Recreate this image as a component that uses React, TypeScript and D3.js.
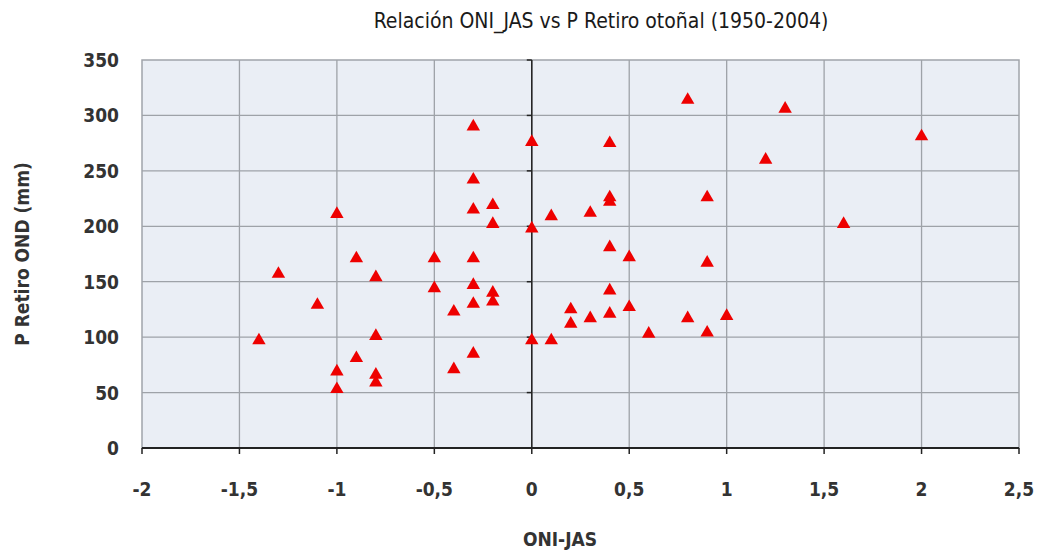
import React from "react";
import * as d3 from "d3";

const oniJas: number[] = [
  -0.3, 0, -0.3, -0.2, -0.3, -1, -0.2, 0, -0.9, -0.5, -0.3, -1.3, -0.8, -0.3, -0.5,
  -0.2, -0.2, -0.3, -1.1, -0.4, -0.8, -1.4, 0, -0.3, -0.9, -0.4, -1, -0.8, -0.8, -1,
  0.8, 1.3, 0.4, 2, 1.2, 0.4, 0.4, 0.9, 0.1, 0.3, 1.6, 0.4, 0.5, 0.9, 0.4, 0.2,
  0.5, 0.3, 0.4, 0.8, 1, 0.2, 0.6, 0.9, 0.1,
];
const pRetiro: number[] = [
  290, 276, 242, 219, 215, 211, 202, 198, 171, 171, 171, 157, 154, 147, 144,
  140, 132, 130, 129, 123, 101, 97, 97, 85, 81, 71, 69, 66, 59, 53,
  314, 306, 275, 281, 260, 226, 222, 226, 209, 212, 202, 181, 172, 167, 142, 125,
  127, 117, 121, 117, 119, 112, 103, 104, 97,
];

const xTicks = [-2, -1.5, -1, -0.5, 0, 0.5, 1, 1.5, 2, 2.5];
const yTicks = [0, 50, 100, 150, 200, 250, 300, 350];

const title = "Relación ONI_JAS vs P Retiro otoñal (1950-2004)";
const xTitle = "ONI-JAS";
const yTitle = "P Retiro OND (mm)";

const W = 1038;
const H = 551;
const left = 142;
const right = 1019;
const top = 60;
const bottom = 448;

const font = "'Liberation Sans Narrow', 'Arial Narrow', 'DejaVu Sans Condensed', sans-serif";

export default function App() {
  const x = d3.scaleLinear().domain([-2, 2.5]).range([left, right]);
  const y = d3.scaleLinear().domain([0, 350]).range([bottom, top]);
  const tri = d3.symbol().type(d3.symbolTriangle).size(78)() as string;
  const fmt = (v: number) => String(v).replace(".", ",");
  const x0 = x(0);

  return (
    <svg width={W} height={H} style={{ position: "absolute", left: 0, top: 0 }}>
      <rect x={0} y={0} width={W} height={H} fill="#ffffff" />
      <text x={601} y={28} textAnchor="middle" fontFamily={font} fontSize={21} fill="#1a1a1a">
        {title}
      </text>
      <rect x={left} y={top} width={right - left} height={bottom - top} fill="#eaeef5" stroke="#a0a4aa" strokeWidth={1.5} />
      {xTicks.slice(1, -1).map((t) => (
        <line key={"gx" + t} x1={x(t)} x2={x(t)} y1={top} y2={bottom} stroke="#9ea2a8" strokeWidth={1.3} />
      ))}
      {yTicks.slice(1, -1).map((t) => (
        <line key={"gy" + t} x1={left} x2={right} y1={y(t)} y2={y(t)} stroke="#9ea2a8" strokeWidth={1.3} />
      ))}
      <line x1={x0} x2={x0} y1={top} y2={bottom} stroke="#222" strokeWidth={1.5} />
      {yTicks.map((t) => (
        <line key={"ty" + t} x1={x0 - 5} x2={x0} y1={y(t)} y2={y(t)} stroke="#222" strokeWidth={1.5} />
      ))}
      <line x1={left} x2={right} y1={bottom} y2={bottom} stroke="#222" strokeWidth={1.8} />
      {xTicks.map((t) => (
        <line key={"tx" + t} x1={x(t)} x2={x(t)} y1={bottom} y2={bottom + 6} stroke="#222" strokeWidth={1.5} />
      ))}
      {xTicks.map((t) => (
        <text key={"lx" + t} x={x(t)} y={496} textAnchor="middle" fontFamily={font} fontSize={19} fontWeight="bold" fill="#333">
          {fmt(t)}
        </text>
      ))}
      {yTicks.map((t) => (
        <text key={"ly" + t} x={119} y={y(t) + 7} textAnchor="end" fontFamily={font} fontSize={19} fontWeight="bold" fill="#333">
          {fmt(t)}
        </text>
      ))}
      <text x={560} y={546} textAnchor="middle" fontFamily={font} fontSize={19} fontWeight="bold" fill="#333">
        {xTitle}
      </text>
      <text transform={`translate(29,254) rotate(-90)`} textAnchor="middle" fontFamily={font} fontSize={19} fontWeight="bold" fill="#333">
        {yTitle}
      </text>
      {oniJas.map((v, i) => (
        <path key={"p" + i} d={tri} transform={`translate(${x(v)},${y(pRetiro[i])})`} fill="#ee0000" />
      ))}
    </svg>
  );
}
